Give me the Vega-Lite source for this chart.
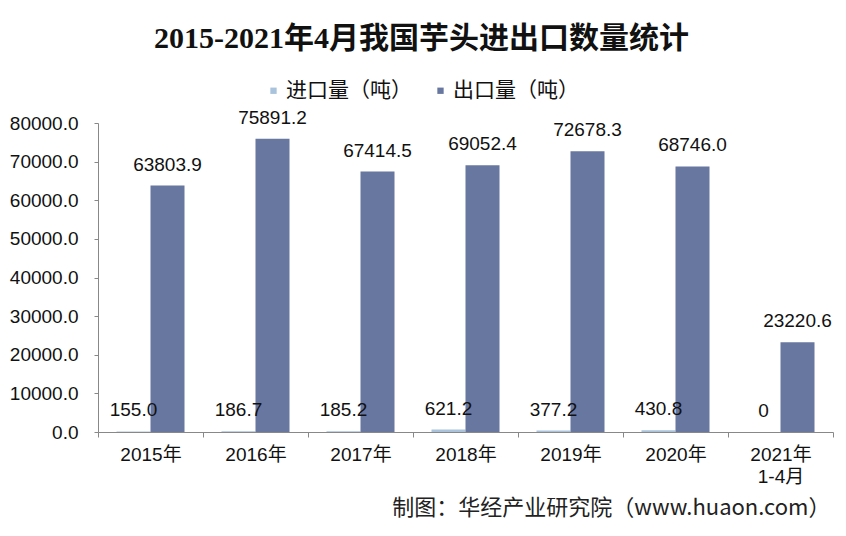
{
  "$schema": "https://vega.github.io/schema/vega-lite/v6.json",
  "width": 735,
  "height": 309,
  "autosize": {"type": "none"},
  "padding": {"left": 98, "top": 123, "right": 13, "bottom": 104},
  "background": "white",
  "title": {
    "text": "2015-2021年4月我国芋头进出口数量统计",
    "font": "Liberation Serif, Noto Sans CJK SC",
    "fontSize": 30,
    "fontWeight": "bold",
    "color": "#111111",
    "frame": "bounds",
    "anchor": "middle",
    "offset": 26
  },
  "data": {
    "values": [
      {"year": "2015年", "type": "进口量（吨）", "value": 155.0, "label": "155.0"},
      {"year": "2015年", "type": "出口量（吨）", "value": 63803.9, "label": "63803.9"},
      {"year": "2016年", "type": "进口量（吨）", "value": 186.7, "label": "186.7"},
      {"year": "2016年", "type": "出口量（吨）", "value": 75891.2, "label": "75891.2"},
      {"year": "2017年", "type": "进口量（吨）", "value": 185.2, "label": "185.2"},
      {"year": "2017年", "type": "出口量（吨）", "value": 67414.5, "label": "67414.5"},
      {"year": "2018年", "type": "进口量（吨）", "value": 621.2, "label": "621.2"},
      {"year": "2018年", "type": "出口量（吨）", "value": 69052.4, "label": "69052.4"},
      {"year": "2019年", "type": "进口量（吨）", "value": 377.2, "label": "377.2"},
      {"year": "2019年", "type": "出口量（吨）", "value": 72678.3, "label": "72678.3"},
      {"year": "2020年", "type": "进口量（吨）", "value": 430.8, "label": "430.8"},
      {"year": "2020年", "type": "出口量（吨）", "value": 68746.0, "label": "68746.0"},
      {"year": "2021年1-4月", "type": "进口量（吨）", "value": 0, "label": "0"},
      {"year": "2021年1-4月", "type": "出口量（吨）", "value": 23220.6, "label": "23220.6"}
    ]
  },
  "encoding": {
    "x": {
      "field": "year",
      "type": "nominal",
      "sort": ["2015年", "2016年", "2017年", "2018年", "2019年", "2020年", "2021年1-4月"],
      "scale": {"paddingInner": 0, "paddingOuter": 0},
      "axis": {
        "title": "制图：华经产业研究院（www.huaon.com）",
        "titleFont": "Noto Sans CJK SC",
        "titleFontSize": 22,
        "titleFontWeight": "normal",
        "titleColor": "#222222",
        "titleAnchor": "end",
        "titleAlign": "right",
        "titleBaseline": "middle",
        "titleX": 732,
        "titleY": 75,
        "labelAngle": 0,
        "labelExpr": "datum.label == '2021年1-4月' ? ['2021年', '1-4月'] : datum.label",
        "labelFont": "Liberation Sans, Noto Sans CJK SC",
        "labelFontSize": 19,
        "labelColor": "#111111",
        "labelPadding": 8,
        "labelLineHeight": 22,
        "tickBand": "extent",
        "tickSize": 5,
        "tickColor": "#888888",
        "domainColor": "#888888"
      }
    },
    "xOffset": {
      "field": "type",
      "type": "nominal",
      "sort": ["进口量（吨）", "出口量（吨）"],
      "scale": {"paddingInner": 0, "paddingOuter": 0.544}
    },
    "y": {
      "field": "value",
      "type": "quantitative",
      "scale": {"domain": [0, 80000], "nice": false},
      "axis": {
        "title": null,
        "grid": false,
        "values": [0, 10000, 20000, 30000, 40000, 50000, 60000, 70000, 80000],
        "format": ".1f",
        "labelFont": "Liberation Sans",
        "labelFontSize": 19,
        "labelColor": "#111111",
        "labelPadding": 16,
        "tickSize": 4,
        "tickColor": "#888888",
        "domainColor": "#888888"
      }
    }
  },
  "layer": [
    {
      "mark": {"type": "bar"},
      "encoding": {
        "color": {
          "field": "type",
          "type": "nominal",
          "scale": {"domain": ["进口量（吨）", "出口量（吨）"], "range": ["#a9c3dc", "#6877a0"]},
          "legend": {
            "title": null,
            "orient": "none",
            "direction": "horizontal",
            "legendX": 165,
            "legendY": -43,
            "symbolType": "square",
            "symbolSize": 40,
            "symbolStrokeWidth": 0,
            "labelFont": "Noto Sans CJK SC",
            "labelFontSize": 21,
            "labelColor": "#111111",
            "labelOffset": 2,
            "columnPadding": 18,
            "padding": 0
          }
        }
      }
    },
    {
      "mark": {"type": "text", "baseline": "middle", "dy": -21, "font": "Liberation Sans", "fontSize": 19},
      "encoding": {
        "text": {"field": "label"},
        "color": {"value": "#111111"}
      }
    }
  ],
  "config": {"view": {"stroke": null}}
}
